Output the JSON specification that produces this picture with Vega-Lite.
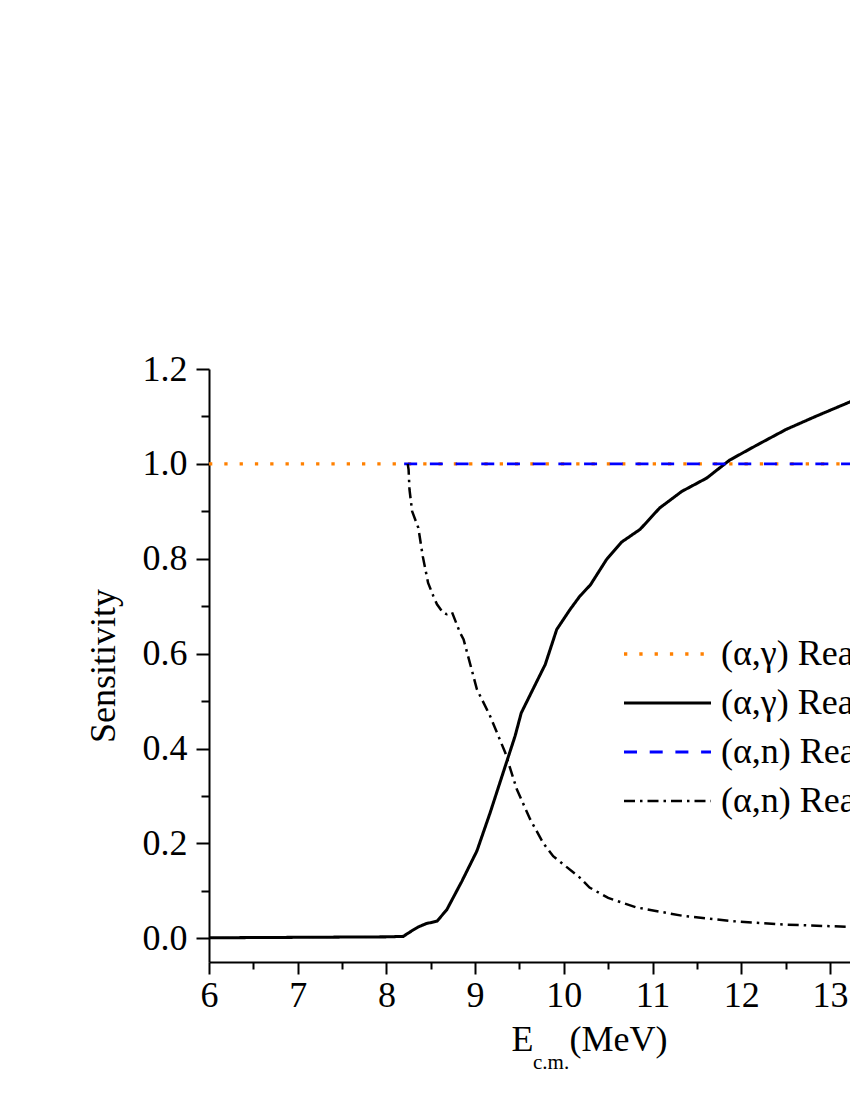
{
  "$schema": "https://vega.github.io/schema/vega-lite/v6.json",
  "autosize": "none",
  "width": 641,
  "height": 593,
  "padding": {"left": 209, "top": 369, "right": 0, "bottom": 138},
  "background": "white",
  "config": {"view": {"stroke": null}, "font": "Liberation Serif"},
  "title": {"text": "c.m.", "orient": "bottom", "anchor": "start", "frame": "group", "dx": 324, "offset": -5, "fontSize": 21, "font": "Liberation Serif", "fontWeight": "normal", "color": "black"},
  "data": {"values": [
    {"s": "(α,γ) Reaction, Γα", "x": 6, "y": 1.0},
    {"s": "(α,γ) Reaction, Γα", "x": 13.5, "y": 1.0},
    {"s": "(α,γ) Reaction, Γn", "x": 6, "y": 0.001},
    {"s": "(α,γ) Reaction, Γn", "x": 7, "y": 0.002},
    {"s": "(α,γ) Reaction, Γn", "x": 8, "y": 0.003},
    {"s": "(α,γ) Reaction, Γn", "x": 8.19, "y": 0.004},
    {"s": "(α,γ) Reaction, Γn", "x": 8.28, "y": 0.015},
    {"s": "(α,γ) Reaction, Γn", "x": 8.36, "y": 0.024},
    {"s": "(α,γ) Reaction, Γn", "x": 8.45, "y": 0.031},
    {"s": "(α,γ) Reaction, Γn", "x": 8.57, "y": 0.036},
    {"s": "(α,γ) Reaction, Γn", "x": 8.68, "y": 0.06},
    {"s": "(α,γ) Reaction, Γn", "x": 8.85, "y": 0.12},
    {"s": "(α,γ) Reaction, Γn", "x": 9.02, "y": 0.184},
    {"s": "(α,γ) Reaction, Γn", "x": 9.17, "y": 0.265},
    {"s": "(α,γ) Reaction, Γn", "x": 9.34, "y": 0.363},
    {"s": "(α,γ) Reaction, Γn", "x": 9.45, "y": 0.426},
    {"s": "(α,γ) Reaction, Γn", "x": 9.52, "y": 0.475},
    {"s": "(α,γ) Reaction, Γn", "x": 9.66, "y": 0.528},
    {"s": "(α,γ) Reaction, Γn", "x": 9.79, "y": 0.577},
    {"s": "(α,γ) Reaction, Γn", "x": 9.92, "y": 0.651},
    {"s": "(α,γ) Reaction, Γn", "x": 10.07, "y": 0.693},
    {"s": "(α,γ) Reaction, Γn", "x": 10.18, "y": 0.721},
    {"s": "(α,γ) Reaction, Γn", "x": 10.3, "y": 0.745},
    {"s": "(α,γ) Reaction, Γn", "x": 10.48, "y": 0.798},
    {"s": "(α,γ) Reaction, Γn", "x": 10.65, "y": 0.835},
    {"s": "(α,γ) Reaction, Γn", "x": 10.86, "y": 0.862},
    {"s": "(α,γ) Reaction, Γn", "x": 11.08, "y": 0.907},
    {"s": "(α,γ) Reaction, Γn", "x": 11.33, "y": 0.942},
    {"s": "(α,γ) Reaction, Γn", "x": 11.61, "y": 0.97},
    {"s": "(α,γ) Reaction, Γn", "x": 11.87, "y": 1.008},
    {"s": "(α,γ) Reaction, Γn", "x": 12.17, "y": 1.039},
    {"s": "(α,γ) Reaction, Γn", "x": 12.51, "y": 1.073},
    {"s": "(α,γ) Reaction, Γn", "x": 12.85, "y": 1.101},
    {"s": "(α,γ) Reaction, Γn", "x": 13.23, "y": 1.131},
    {"s": "(α,γ) Reaction, Γn", "x": 13.5, "y": 1.15},
    {"s": "(α,n) Reaction, Γα", "x": 8.2, "y": 1.0},
    {"s": "(α,n) Reaction, Γα", "x": 13.5, "y": 1.0},
    {"s": "(α,n) Reaction, Γn", "x": 8.24, "y": 1.0},
    {"s": "(α,n) Reaction, Γn", "x": 8.25, "y": 0.988},
    {"s": "(α,n) Reaction, Γn", "x": 8.26, "y": 0.946},
    {"s": "(α,n) Reaction, Γn", "x": 8.29, "y": 0.9},
    {"s": "(α,n) Reaction, Γn", "x": 8.36, "y": 0.865},
    {"s": "(α,n) Reaction, Γn", "x": 8.41, "y": 0.805},
    {"s": "(α,n) Reaction, Γn", "x": 8.47, "y": 0.749},
    {"s": "(α,n) Reaction, Γn", "x": 8.53, "y": 0.721},
    {"s": "(α,n) Reaction, Γn", "x": 8.57, "y": 0.704},
    {"s": "(α,n) Reaction, Γn", "x": 8.64, "y": 0.686},
    {"s": "(α,n) Reaction, Γn", "x": 8.68, "y": 0.683},
    {"s": "(α,n) Reaction, Γn", "x": 8.74, "y": 0.687},
    {"s": "(α,n) Reaction, Γn", "x": 8.83, "y": 0.644},
    {"s": "(α,n) Reaction, Γn", "x": 8.87, "y": 0.63},
    {"s": "(α,n) Reaction, Γn", "x": 9.02, "y": 0.525},
    {"s": "(α,n) Reaction, Γn", "x": 9.17, "y": 0.468},
    {"s": "(α,n) Reaction, Γn", "x": 9.34, "y": 0.391},
    {"s": "(α,n) Reaction, Γn", "x": 9.47, "y": 0.314},
    {"s": "(α,n) Reaction, Γn", "x": 9.62, "y": 0.251},
    {"s": "(α,n) Reaction, Γn", "x": 9.77, "y": 0.2},
    {"s": "(α,n) Reaction, Γn", "x": 9.88, "y": 0.173},
    {"s": "(α,n) Reaction, Γn", "x": 10.18, "y": 0.128},
    {"s": "(α,n) Reaction, Γn", "x": 10.29, "y": 0.107},
    {"s": "(α,n) Reaction, Γn", "x": 10.5, "y": 0.085},
    {"s": "(α,n) Reaction, Γn", "x": 10.82, "y": 0.065},
    {"s": "(α,n) Reaction, Γn", "x": 11.35, "y": 0.047},
    {"s": "(α,n) Reaction, Γn", "x": 11.91, "y": 0.036},
    {"s": "(α,n) Reaction, Γn", "x": 12.47, "y": 0.029},
    {"s": "(α,n) Reaction, Γn", "x": 13.23, "y": 0.024},
    {"s": "(α,n) Reaction, Γn", "x": 13.5, "y": 0.023}
  ]},
  "resolve": {"axis": {"x": "independent", "y": "independent"}},
  "layer": [
    {
      "mark": {"type": "line", "clip": true, "strokeCap": "butt"},
      "encoding": {
        "x": {"field": "x", "type": "quantitative",
          "scale": {"domain": [6, 13.226], "nice": false, "zero": false},
          "axis": {"orient": "bottom", "values": [6, 7, 8, 9, 10, 11, 12, 13], "format": "d", "grid": false,
            "domainColor": "black", "domainWidth": 2, "tickColor": "black", "tickWidth": 2, "tickSize": 12,
            "labelFont": "Liberation Serif", "labelFontSize": 36, "labelColor": "black", "labelPadding": 4,
            "labelFlush": false, "labelOverlap": false, "labelBound": false,
            "title": "E\u2003(MeV)", "titleFont": "Liberation Serif", "titleFontSize": 36, "titleFontWeight": "normal",
            "titleColor": "black", "titlePadding": 9, "titleX": 380, "titleAlign": "center"}},
        "y": {"field": "y", "type": "quantitative",
          "scale": {"domain": [-0.05, 1.2], "nice": false, "zero": false},
          "axis": {"orient": "left", "values": [0, 0.2, 0.4, 0.6, 0.8, 1.0, 1.2], "format": ".1f", "grid": false,
            "domainColor": "black", "domainWidth": 2, "tickColor": "black", "tickWidth": 2, "tickSize": 13,
            "labelFont": "Liberation Serif", "labelFontSize": 36, "labelColor": "black", "labelPadding": 9,
            "labelFlush": false, "labelOverlap": false, "labelBound": false,
            "title": "Sensitivity", "titleFont": "Liberation Serif", "titleFontSize": 36, "titleFontWeight": "normal",
            "titleColor": "black", "titlePadding": 20}},
        "color": {"field": "s", "type": "nominal",
          "scale": {"domain": ["(α,γ) Reaction, Γα", "(α,γ) Reaction, Γn", "(α,n) Reaction, Γα", "(α,n) Reaction, Γn"],
                    "range": ["#ff8000", "#000000", "#0000ff", "#000000"]},
          "legend": {"orient": "none", "legendX": 413, "legendY": 263, "title": null, "padding": 0,
            "symbolType": "stroke", "symbolSize": 7569, "clipHeight": 44, "rowPadding": 5, "labelOffset": 8,
            "symbolOffset": 0, "labelFont": "Liberation Serif", "labelFontSize": 36, "labelColor": "black", "labelLimit": 0}},
        "strokeDash": {"field": "s", "type": "nominal",
          "scale": {"domain": ["(α,γ) Reaction, Γα", "(α,γ) Reaction, Γn", "(α,n) Reaction, Γα", "(α,n) Reaction, Γn"],
                    "range": [[3.3, 12], [1, 0], [13, 12.7], [11, 5, 2.5, 5]]},
          "legend": {"orient": "none", "legendX": 413, "legendY": 263, "title": null, "padding": 0,
            "symbolType": "stroke", "symbolSize": 7569, "clipHeight": 44, "rowPadding": 5, "labelOffset": 8,
            "symbolOffset": 0, "labelFont": "Liberation Serif", "labelFontSize": 36, "labelColor": "black", "labelLimit": 0}},
        "strokeWidth": {"field": "s", "type": "nominal",
          "scale": {"domain": ["(α,γ) Reaction, Γα", "(α,γ) Reaction, Γn", "(α,n) Reaction, Γα", "(α,n) Reaction, Γn"],
                    "range": [3.3, 2.5, 3.8, 2.5]},
          "legend": {"orient": "none", "legendX": 413, "legendY": 263, "title": null, "padding": 0,
            "symbolType": "stroke", "symbolSize": 7569, "clipHeight": 44, "rowPadding": 5, "labelOffset": 8,
            "symbolOffset": 0, "labelFont": "Liberation Serif", "labelFontSize": 36, "labelColor": "black", "labelLimit": 0}}
      }
    },
    {
      "mark": {"type": "point", "opacity": 0},
      "encoding": {
        "x": {"field": "x", "type": "quantitative",
          "scale": {"domain": [6, 13.226], "nice": false, "zero": false},
          "axis": {"orient": "bottom", "values": [6.5, 7.5, 8.5, 9.5, 10.5, 11.5, 12.5], "labels": false, "domain": false, "grid": false,
            "tickColor": "black", "tickWidth": 2, "tickSize": 7, "title": null}},
        "y": {"field": "y", "type": "quantitative",
          "scale": {"domain": [-0.05, 1.2], "nice": false, "zero": false},
          "axis": {"orient": "left", "values": [0.1, 0.3, 0.5, 0.7, 0.9, 1.1], "labels": false, "domain": false, "grid": false,
            "tickColor": "black", "tickWidth": 2, "tickSize": 8, "title": null}}
      }
    }
  ]
}
